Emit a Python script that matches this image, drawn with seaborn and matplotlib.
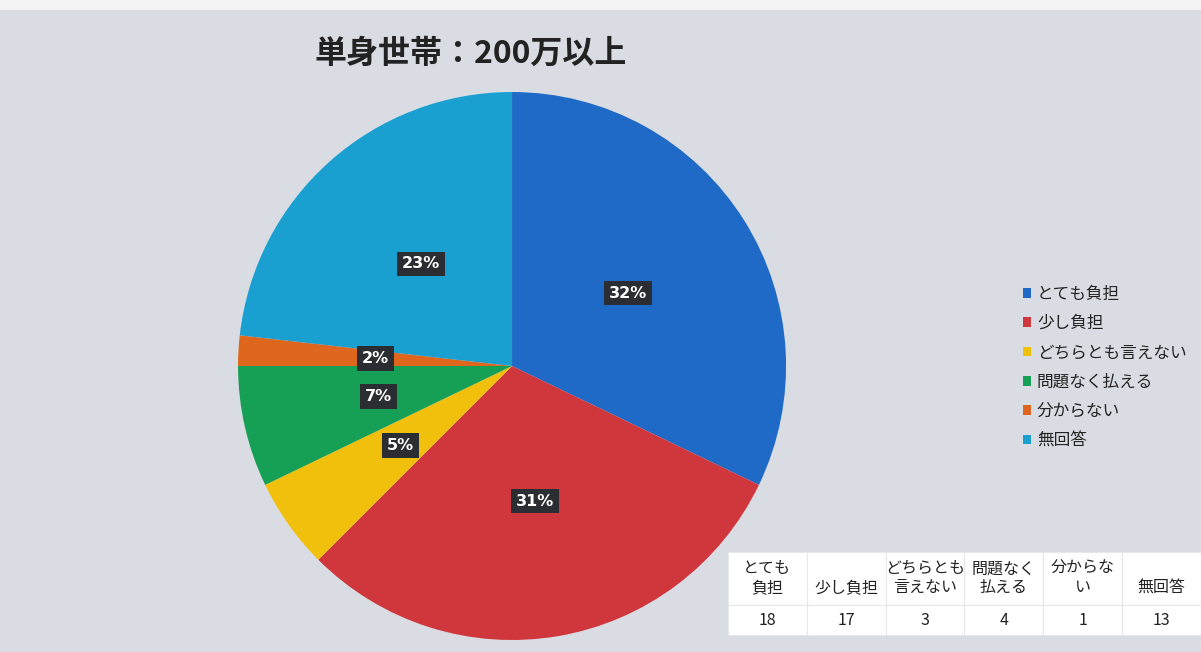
import matplotlib
matplotlib.use("Agg")
import matplotlib.pyplot as plt
import seaborn as sns

# data
categories = ["とても負担", "少し負担", "どちらとも言えない", "問題なく払える", "分からない", "無回答"]
counts = [18, 17, 3, 4, 1, 13]
pct_labels = ["32%", "31%", "5%", "7%", "2%", "23%"]
table_headers = ["とても\n負担", "\n少し負担", "どちらとも\n言えない", "問題なく\n払える", "分からな\nい", "\n無回答"]

colors = sns.color_palette(["#1f6ac6", "#d0373d", "#f1c00c", "#16a055", "#df661d", "#199fd0"])

sns.set_theme(style="white")
plt.rcParams['font.family'] = ['Noto Sans CJK JP', 'DejaVu Sans']

fig = plt.figure(figsize=(12.01, 6.52), dpi=100)
fig.patch.set_facecolor("#d9dce2")
# white strip along the top of the scan
fig.add_artist(plt.Rectangle((0, 0.985), 1, 0.015, transform=fig.transFigure,
                             facecolor="#f4f4f4", edgecolor="none"))

ax = fig.add_axes([0.1982, 0.0184, 0.4563, 0.8405])
wedges, texts = ax.pie(counts, colors=colors, startangle=90, counterclock=False,
                       labels=pct_labels, labeldistance=0.5,
                       wedgeprops=dict(linewidth=0))
for t in texts:
    t.set_ha("center")
    t.set_va("center")
    t.set_color("white")
    t.set_fontweight("bold")
    t.set_fontsize(11.5)
    t.set_family(["DejaVu Sans"])
    t.set_bbox(dict(boxstyle="square,pad=0.3", facecolor="#2a2e33", edgecolor="none"))
ax.set_xlim(-1, 1)
ax.set_ylim(-1, 1)
ax.set_aspect("equal")
ax.axis("off")

fig.text(0.392, 0.918, "単身世帯：200万以上", ha="center", va="center",
         fontsize=23, fontweight="bold", color="#222222")

# legend
leg = fig.legend(wedges, categories, loc="upper left", bbox_to_anchor=(0.846, 0.572),
                 frameon=False, fontsize=12, handlelength=0.5, handleheight=0.5,
                 handletextpad=0.35, labelspacing=0.74, borderaxespad=0)
for t in leg.get_texts():
    t.set_color("#222222")

# data table in the bottom right
tab_ax = fig.add_axes([0.606, 0.026, 0.394, 0.128])
tab_ax.axis("off")
tbl = tab_ax.table(cellText=[table_headers, [str(c) for c in counts]],
                   cellLoc="center", loc="center", bbox=[0, 0, 1, 1])
tbl.auto_set_font_size(False)
for (r, c), cell in tbl.get_celld().items():
    cell.set_facecolor("white")
    cell.set_edgecolor("#e6e8ec")
    cell.set_linewidth(0.8)
    cell.get_text().set_fontsize(11.5)
    cell.get_text().set_color("#222222")
    cell.get_text().set_linespacing(1.15)
    if r == 0:
        cell.set_height(0.64)
    else:
        cell.set_height(0.36)

fig.savefig("out.png", dpi=100, facecolor=fig.get_facecolor())
